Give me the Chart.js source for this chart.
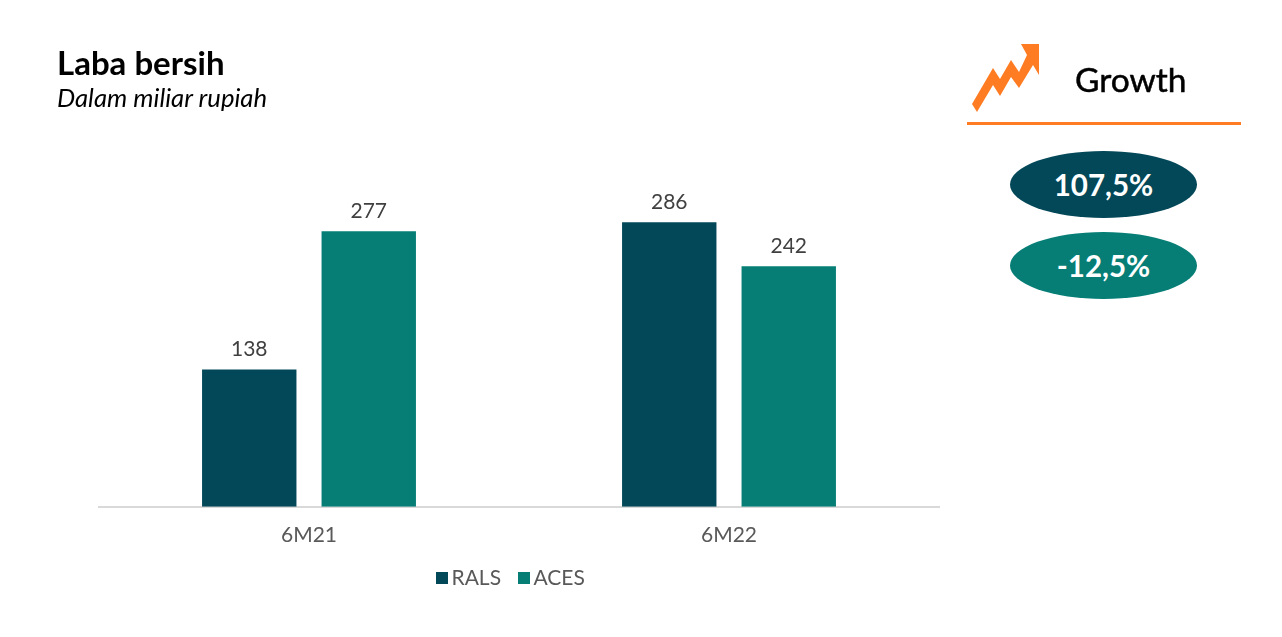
<!DOCTYPE html>
<html lang="en">

<head>
    <meta charset="UTF-8">
    <title>Laba bersih</title>
    <script src="https://cdn.jsdelivr.net/npm/chart.js"></script>
    <style>
        html, body { margin: 0; padding: 0; background: #fff; overflow: hidden; }
        body { width: 1282px; height: 637px; position: relative; font-family: Lato, sans-serif; }
        .abs { position: absolute; white-space: nowrap; }
        #title { left: 57px; top: 43px; font-size: 33px; font-weight: 700; line-height: 38px; color: #000; }
        #subtitle { left: 57px; top: 82px; font-size: 25.7px; font-style: italic; line-height: 30px; color: #000; }
        #growth { left: 1075px; top: 59px; font-size: 33.5px; line-height: 40px; color: #000; -webkit-text-stroke: 0.5px #000; }
        #rule { left: 967px; top: 122px; width: 274px; height: 3px; background: #ff7c23; }
        .pill { left: 1010px; width: 187px; height: 67px; border-radius: 50%; color: #fff; font-size: 29.5px; font-weight: 700;
                line-height: 67px; text-align: center; }
        #chartWrap { position: absolute; left: 0; top: 0; width: 1020px; height: 637px; }
        #legend { left: 436px; top: 564px; height: 26px; line-height: 26px; font-size: 21px; color: #595959; }
        #legend span.item { position: absolute; top: 0; }
        #legend i { position: absolute; left: 0; top: 8px; width: 12px; height: 12px; }
        #legend b { font-weight: 400; margin-left: 15.5px; }
    </style>
</head>

<body>
    <div id="chartWrap"><canvas id="chart1" width="1020" height="637"></canvas></div>

    <div class="abs" id="title">Laba bersih</div>
    <div class="abs" id="subtitle">Dalam miliar rupiah</div>

    <svg class="abs" style="left:950px;top:30px" width="110" height="90">
        <polygon fill="#ff7c23" points="22,74 43,38 50,49 61,30 69,42 77,25 71,14 89,14 89,45 83,35 69,58 61,47 50,66 43,55 27,82"></polygon>
    </svg>
    <div class="abs" id="growth">Growth</div>
    <div class="abs" id="rule"></div>
    <div class="abs pill" id="pill1" style="top:151px;background:#034858"></div>
    <div class="abs pill" id="pill2" style="top:232px;background:#067e76"></div>
    <div class="abs" id="legend"></div>

    <script>
        var categories = ['6M21', '6M22'];
        var ralsValues = [138, 286];
        var acesValues = [277, 242];
        var growthLabels = ['107,5%', '-12,5%'];

        var ralsColor = '#034858';
        var acesColor = '#067e76';

        document.getElementById('pill1').textContent = growthLabels[0];
        document.getElementById('pill2').textContent = growthLabels[1];

        // value labels above each bar
        var barLabels = {
            id: 'barLabels',
            afterDatasetsDraw: function (chart) {
                var ctx = chart.ctx;
                ctx.save();
                ctx.font = '21px Lato';
                ctx.fillStyle = '#404040';
                ctx.textAlign = 'center';
                ctx.textBaseline = 'middle';
                chart.data.datasets.forEach(function (ds, i) {
                    chart.getDatasetMeta(i).data.forEach(function (bar, j) {
                        ctx.fillText(ds.data[j], bar.x, bar.y - 20);
                    });
                });
                ctx.restore();
            }
        };

        // legend squares sit closer to the text than the built-in legend allows
        function buildLegend(chart) {
            var html = '';
            var offsets = [0, 82];
            chart.data.datasets.forEach(function (ds, i) {
                html += '<span class="item" style="left:' + offsets[i] + 'px"><i style="background:' + ds.backgroundColor + '"></i><b>' + ds.label + '</b></span>';
            });
            document.getElementById('legend').innerHTML = html;
        }

        function createChart() {
            var ctx = document.getElementById('chart1').getContext('2d');
            var chart = new Chart(ctx, {
                type: 'bar',
                data: {
                    labels: categories,
                    datasets: [
                        { label: 'RALS', data: ralsValues, backgroundColor: ralsColor },
                        { label: 'ACES', data: acesValues, backgroundColor: acesColor }
                    ]
                },
                options: {
                    responsive: false,
                    animation: false,
                    categoryPercentage: 0.569,
                    barPercentage: 0.79,
                    layout: { padding: { left: 99, right: 81, top: 109, bottom: 73 } },
                    plugins: {
                        tooltip: { enabled: false },
                        legend: { display: false }
                    },
                    scales: {
                        x: {
                            grid: { display: false, drawTicks: false },
                            border: { color: '#d9d9d9', width: 2 },
                            ticks: { color: '#595959', padding: 16, font: { family: 'Lato', size: 21 } }
                        },
                        y: { display: false, min: 0, max: 400 }
                    }
                },
                plugins: [barLabels]
            });
            buildLegend(chart);
        }

        document.fonts.load('21px Lato').then(createChart, createChart);
    </script>

</body>

</html>
